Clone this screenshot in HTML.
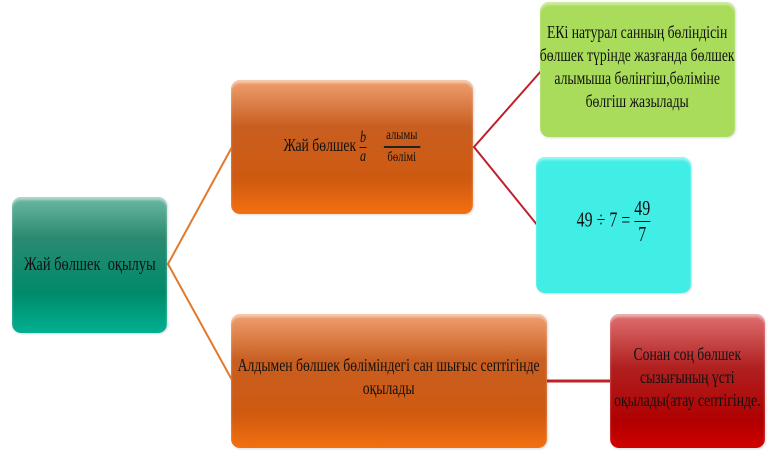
<!DOCTYPE html>
<html><head><meta charset="utf-8"><style>
body{margin:0;width:776px;height:451px;background:#fff;position:relative;overflow:hidden;font-family:"Liberation Serif",serif;color:#111}
.b{position:absolute;border-radius:9px;display:flex;align-items:center;justify-content:center;text-align:center;box-shadow:inset 0 3px 2px rgba(255,255,255,.45),1px 1px 2px rgba(0,0,0,.15)}
.t{display:inline-block;transform:scaleX(.76);font-size:16px;line-height:22px;white-space:nowrap}
.or{background:linear-gradient(#f0a070 0%,#c85e20 35%,#cf5a10 75%,#f47010 100%)}
</style></head><body>
<svg width="776" height="451" style="position:absolute;left:0;top:0">
<polyline points="232,147 168,264 232,380" fill="none" stroke="#e07a30" stroke-width="2"/>
<polyline points="542,70 474,147 538,226" fill="none" stroke="#c0202a" stroke-width="2"/>
<line x1="546" y1="381" x2="611" y2="381" stroke="#c0202a" stroke-width="3"/>
</svg>
<div class="b" style="left:12px;top:197px;width:155px;height:136px;background:linear-gradient(#6cb8a4 0%,#2a8a70 30%,#008a6a 70%,#00b090 100%)"><span class="t" style="font-size:19px">Жай бөлшек &nbsp;оқылуы</span></div>
<div class="b or" style="left:231px;top:80px;width:242px;height:134px"><span class="t" style="font-size:18px">Жай бөлшек <span style="display:inline-block;vertical-align:middle;font-style:italic;font-size:16px;line-height:18px">b<br><span style="border-top:1px solid #111;display:block;width:9px;height:0;margin:0 auto"></span>a</span> &nbsp;&nbsp;&nbsp; <span style="display:inline-block;vertical-align:middle;font-size:14px;line-height:20px"><span style="display:block;border-bottom:2px solid #222">&nbsp;алымы&nbsp;</span>бөлімі</span></span></div>
<div class="b" style="left:540px;top:2px;width:195px;height:135px;background:#a8dc5a"><span class="t" style="font-size:18px;line-height:23px;margin-top:-6px">ЕКі натурал санның бөліндісін<br>бөлшек түрінде жазғанда бөлшек<br>алымыша бөлінгіш,бөліміне<br>бөлгіш жазылады</span></div>
<div class="b" style="left:536px;top:157px;width:155px;height:136px;background:#40eee6"><span class="t" style="font-size:21px;margin-top:-8px">49 ÷ 7 = <span style="display:inline-block;vertical-align:middle;line-height:25px"><span style="display:block;border-bottom:1px solid #111">49</span>7</span></span></div>
<div class="b or" style="left:231px;top:314px;width:316px;height:134px"><span class="t" style="font-size:18px;line-height:23px;margin-top:-8px">Алдымен бөлшек бөліміндегі сан шығыс септігінде<br>оқылады</span></div>
<div class="b" style="left:610px;top:314px;width:155px;height:134px;background:linear-gradient(#e07070 0%,#b02020 40%,#b00000 80%,#d00000 100%)"><span class="t" style="font-size:18px;line-height:23px;margin-top:-8px">Сонан соң бөлшек<br>сызығының үсті<br>оқылады(атау септігінде.</span></div>
</body></html>
